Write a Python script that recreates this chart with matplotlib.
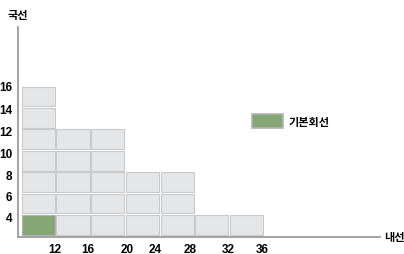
import matplotlib.pyplot as plt
from matplotlib.patches import Patch

plt.rcParams['font.family'] = ['Liberation Sans', 'Noto Sans CJK KR', 'DejaVu Sans']

# 내선 (x) columns and the max 국선 (y) each one supports
naeseon = [12, 16, 20, 24, 28, 32, 36]
gukseon_max = [16, 12, 12, 8, 8, 4, 4]
base_cell = (12, 4)  # 기본회선

x_tick_pos = [11.92, 15.72, 20.22, 23.45, 27.48, 31.86, 35.78]
x_tick_labels = ['12', '16', '20', '24', '28', '32', '36']
y_tick_pos = [3.75, 5.7, 7.7, 9.75, 11.8, 13.85, 16.0]
y_tick_labels = ['4', '6', '8', '10', '12', '14', '16']

col_w = 4
row_h = 2
gap_x = 0.09
gap_y = 0.075

cell_fill = '#e5e6e7'
cell_edge = '#cacaca'
base_fill = '#87a675'
base_edge = '#b3b3b3'
axis_color = '#9c9c9c'
kr_font = ['Noto Sans CJK KR', 'DejaVu Sans']

fig = plt.figure(figsize=(4.04, 2.55), dpi=100)
ax = fig.add_axes([18 / 404, 17 / 255, 362 / 404, 210 / 255])

for x, top in zip(naeseon, gukseon_max):
    for y in range(4, top + 1, row_h):
        is_base = (x, y) == base_cell
        ax.bar(x - col_w + gap_x, row_h - 2 * gap_y, width=col_w - 2 * gap_x,
               bottom=y - row_h + gap_y, align='edge',
               color=base_fill if is_base else cell_fill,
               edgecolor=base_edge if is_base else cell_edge,
               linewidth=0.8, zorder=2)

ax.set_xlim(7.65, 49.4)
ax.set_ylim(1.86, 21.5)

for side in ['top', 'right']:
    ax.spines[side].set_visible(False)
for side in ['left', 'bottom']:
    ax.spines[side].set_color(axis_color)
    ax.spines[side].set_linewidth(1.3)

ax.set_xticks(x_tick_pos)
ax.set_xticklabels(x_tick_labels, fontsize=8.5, fontweight='bold')
ax.set_yticks(y_tick_pos)
ax.set_yticklabels(y_tick_labels, fontsize=8.5, fontweight='bold')
ax.tick_params(axis='both', length=0)
ax.tick_params(axis='x', pad=4)
ax.tick_params(axis='y', pad=4)

fig.text(17.5 / 404, 1 - 16 / 255, '국선', ha='center', va='center',
         fontsize=8, fontweight='black', family=kr_font)
fig.text(384 / 404, 1 - 238 / 255, '내선', ha='left', va='center',
         fontsize=8, fontweight='black', family=kr_font)

handle = Patch(facecolor=base_fill, edgecolor=base_edge, linewidth=1.2)
leg = ax.legend([handle], ['기본회선'], loc='center left',
                bbox_to_anchor=(246 / 404, 1 - 122 / 255),
                bbox_transform=fig.transFigure, frameon=False,
                handlelength=2.8, handleheight=1.5, handletextpad=0.5,
                borderpad=0, prop={'family': kr_font, 'weight': 'black', 'size': 8})

fig.savefig('out.png', dpi=100)
